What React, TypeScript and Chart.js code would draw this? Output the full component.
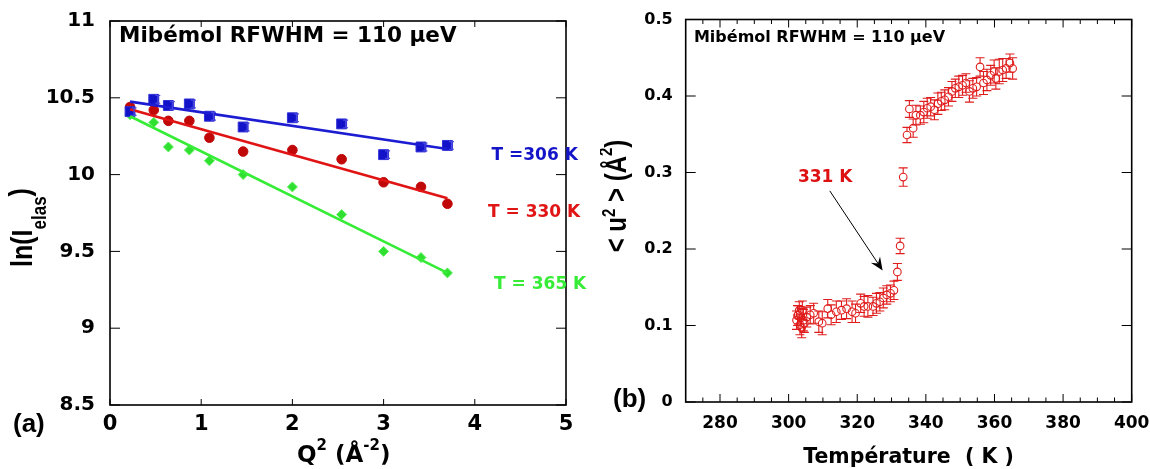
import React, { useEffect, useRef } from 'react';
import { Chart, registerables } from 'chart.js';

Chart.register(...registerables);

// ---------- Panel (a) data ----------
const Q2 = [0.22, 0.48, 0.64, 0.87, 1.09, 1.46, 2.0, 2.54, 3.0, 3.41, 3.7];
const LN_I_306 = [10.41, 10.49, 10.45, 10.46, 10.38, 10.31, 10.37, 10.33, 10.13, 10.18, 10.19];
const ERR_306 = [0.025, 0.025, 0.025, 0.025, 0.025, 0.025, 0.025, 0.025, 0.025, 0.025, 0.025];
const LN_I_330 = [10.44, 10.42, 10.35, 10.35, 10.24, 10.15, 10.16, 10.1, 9.95, 9.92, 9.81];
const LN_I_365 = [10.39, 10.34, 10.18, 10.16, 10.09, 10.0, 9.92, 9.74, 9.5, 9.46, 9.36];
const FIT_Q2 = [0.22, 3.7];
const FIT_306 = [10.475, 10.167];
const FIT_330 = [10.425, 9.846];
const FIT_365 = [10.38, 9.36];
const X_TICKS_A = [0, 1, 2, 3, 4, 5];
const Y_TICKS_A = [8.5, 9, 9.5, 10, 10.5, 11];

// ---------- Panel (b) data ----------
const TEMP_K = [
  302.3, 302.6, 302.8, 303.1, 303.3, 303.6, 303.8, 304.0, 304.3, 304.6,
  305.3, 306.3, 307.3, 308.8, 309.8,
  311.4, 312.4, 313.9, 315.4, 316.9, 318.5, 319.5,
  321.0, 322.0, 323.1, 324.6, 325.6, 326.6, 327.6, 328.6, 329.7, 330.7,
  331.7, 332.5, 333.4, 334.5, 335.2, 336.3,
  337.1, 338.4, 339.4, 340.4, 341.4, 342.5, 343.5, 344.5, 345.5, 346.6,
  347.6, 348.6, 349.6, 350.7, 351.7, 352.7, 353.7, 354.8, 355.8, 356.8,
  357.8, 358.9, 359.9, 360.4, 361.4, 362.4, 363.4, 364.5, 365.3,
];
const U2 = [
  0.107, 0.113, 0.114, 0.12, 0.101, 0.11, 0.097, 0.12, 0.107, 0.103,
  0.111, 0.114, 0.116, 0.105, 0.103,
  0.122, 0.114, 0.118, 0.12, 0.122, 0.118, 0.116,
  0.129, 0.125, 0.125, 0.125, 0.129, 0.131, 0.136, 0.14, 0.142, 0.146,
  0.17, 0.204, 0.294, 0.349, 0.383, 0.358,
  0.375, 0.375, 0.379, 0.384, 0.386, 0.382, 0.39, 0.393, 0.395, 0.399,
  0.406, 0.41, 0.412, 0.414, 0.417, 0.406, 0.41, 0.412, 0.438, 0.417,
  0.421, 0.427, 0.432, 0.423, 0.432, 0.434, 0.436, 0.443, 0.436,
];
const U2_ERR = [
  0.012, 0.013, 0.012, 0.011, 0.013, 0.012, 0.013, 0.012, 0.014, 0.012,
  0.013, 0.012, 0.013, 0.014, 0.015,
  0.012, 0.013, 0.014, 0.012, 0.013, 0.014, 0.012,
  0.012, 0.013, 0.014, 0.012, 0.013, 0.012, 0.013, 0.012, 0.011, 0.012,
  0.011, 0.01, 0.012, 0.01, 0.011, 0.012,
  0.013, 0.012, 0.014, 0.013, 0.012, 0.013, 0.014, 0.012, 0.013, 0.012,
  0.013, 0.012, 0.014, 0.013, 0.012, 0.014, 0.013, 0.012, 0.012, 0.015,
  0.014, 0.013, 0.015, 0.014, 0.016, 0.015, 0.013, 0.012, 0.014,
];
const X_TICKS_B = [280, 300, 320, 340, 360, 380, 400];
const X_MINOR_B = [275, 285, 290, 295, 305, 310, 315, 325, 330, 335, 345, 350, 355, 365, 370, 375, 385, 390, 395];
const Y_TICKS_B = [0, 0.1, 0.2, 0.3, 0.4, 0.5];

// annotation anchors (data coordinates)
const ARROW_FROM = [312.0, 0.276];
const ARROW_TO = [327.4, 0.172];
const LABEL_331 = [302.7, 0.288];

const DV = "'DejaVu Sans', sans-serif";
const LS = "'Liberation Sans', Arial, sans-serif";

type Seg = { t: string; font: string; dy?: number; color?: string };
type TextItem = {
  segs: Seg[];
  x: number;
  y: number;
  data?: boolean;
  rotate?: boolean;
  stretch?: number;
  align?: 'left' | 'center';
  color?: string;
};

function drawRich(ctx: CanvasRenderingContext2D, it: TextItem, x: number, y: number) {
  ctx.save();
  const widths = it.segs.map((s) => {
    ctx.font = s.font;
    return ctx.measureText(s.t).width;
  });
  const total = widths.reduce((a, b) => a + b, 0);
  ctx.translate(x, y);
  ctx.scale(it.stretch || 1, 1);
  if (it.rotate) ctx.rotate(-Math.PI / 2);
  let cx = it.align === 'center' ? -total / 2 : 0;
  ctx.textBaseline = 'alphabetic';
  ctx.textAlign = 'left';
  it.segs.forEach((s, i) => {
    ctx.font = s.font;
    ctx.fillStyle = s.color || it.color || '#000';
    ctx.fillText(s.t, cx, s.dy || 0);
    cx += widths[i];
  });
  ctx.restore();
}

const textPlugin = {
  id: 'texts',
  afterDraw(chart: any, _a: any, opts: any) {
    const ctx = chart.ctx as CanvasRenderingContext2D;
    const xs = chart.scales.x;
    const ys = chart.scales.y;
    (opts.items || []).forEach((it: TextItem) => {
      const px = it.data ? xs.getPixelForValue(it.x) : it.x;
      const py = it.data ? ys.getPixelForValue(it.y) : it.y;
      drawRich(ctx, it, px, py);
    });
  },
};

const framePlugin = {
  id: 'frame',
  afterDraw(chart: any, _a: any, opts: any) {
    const ctx = chart.ctx as CanvasRenderingContext2D;
    const a = chart.chartArea;
    const xs = chart.scales.x;
    const ys = chart.scales.y;
    ctx.save();
    ctx.strokeStyle = '#000';
    ctx.lineWidth = 1;
    const line = (x1: number, y1: number, x2: number, y2: number) => {
      ctx.beginPath();
      ctx.moveTo(x1, y1);
      ctx.lineTo(x2, y2);
      ctx.stroke();
    };
    (opts.xMajor || []).forEach((v: number) => {
      const p = xs.getPixelForValue(v);
      line(p, a.bottom, p, a.bottom - opts.xMajorLen);
      line(p, a.top, p, a.top + opts.xMajorLen);
    });
    (opts.xMinor || []).forEach((v: number) => {
      const p = xs.getPixelForValue(v);
      line(p, a.bottom, p, a.bottom - opts.xMinorLen);
      line(p, a.top, p, a.top + opts.xMinorLen);
    });
    (opts.yMajor || []).forEach((v: number) => {
      const p = ys.getPixelForValue(v);
      line(a.left, p, a.left + opts.yMajorLen, p);
      line(a.right, p, a.right - opts.yMajorLen, p);
    });
    ctx.lineWidth = 1.6;
    ctx.strokeRect(a.left, a.top, a.right - a.left, a.bottom - a.top);
    ctx.restore();
  },
};

const errorBarPlugin = {
  id: 'errorBars',
  afterDatasetsDraw(chart: any) {
    const ctx = chart.ctx as CanvasRenderingContext2D;
    const ys = chart.scales.y;
    chart.data.datasets.forEach((ds: any, di: number) => {
      if (!ds.errors) return;
      const meta = chart.getDatasetMeta(di);
      ctx.save();
      ctx.strokeStyle = ds.errColor || ds.borderColor;
      ctx.lineWidth = ds.errWidth || 1;
      const cap = ds.errCap || 4;
      const gap = ds.errGap || 0;
      meta.data.forEach((pt: any, i: number) => {
        const v = ds.data[i].y;
        const e = ds.errors[i];
        const x = pt.x + (ds.errOffset || 0);
        const yc = pt.y;
        const yt = ys.getPixelForValue(v + e);
        const yb = ys.getPixelForValue(v - e);
        ctx.beginPath();
        if (gap > 0) {
          if (yc - gap > yt) {
            ctx.moveTo(x, yt);
            ctx.lineTo(x, yc - gap);
          }
          if (yc + gap < yb) {
            ctx.moveTo(x, yc + gap);
            ctx.lineTo(x, yb);
          }
        } else {
          ctx.moveTo(x, yt);
          ctx.lineTo(x, yb);
        }
        ctx.moveTo(x - cap, yt);
        ctx.lineTo(x + cap, yt);
        ctx.moveTo(x - cap, yb);
        ctx.lineTo(x + cap, yb);
        ctx.stroke();
      });
      ctx.restore();
    });
  },
};

const arrowPlugin = {
  id: 'arrow',
  afterDraw(chart: any, _a: any, opts: any) {
    if (!opts.from) return;
    const ctx = chart.ctx as CanvasRenderingContext2D;
    const xs = chart.scales.x;
    const ys = chart.scales.y;
    const x1 = xs.getPixelForValue(opts.from[0]);
    const y1 = ys.getPixelForValue(opts.from[1]);
    const x2 = xs.getPixelForValue(opts.to[0]);
    const y2 = ys.getPixelForValue(opts.to[1]);
    const ang = Math.atan2(y2 - y1, x2 - x1);
    const L = 13;
    const W = 5.5;
    ctx.save();
    ctx.strokeStyle = '#000';
    ctx.fillStyle = '#000';
    ctx.lineWidth = 1;
    ctx.beginPath();
    ctx.moveTo(x1, y1);
    ctx.lineTo(x2 - Math.cos(ang) * 6, y2 - Math.sin(ang) * 6);
    ctx.stroke();
    const bx = x2 - Math.cos(ang) * L;
    const by = y2 - Math.sin(ang) * L;
    const nx = x2 - Math.cos(ang) * (L * 0.65);
    const ny = y2 - Math.sin(ang) * (L * 0.65);
    ctx.beginPath();
    ctx.moveTo(x2, y2);
    ctx.lineTo(bx - Math.sin(ang) * W, by + Math.cos(ang) * W);
    ctx.lineTo(nx, ny);
    ctx.lineTo(bx + Math.sin(ang) * W, by - Math.cos(ang) * W);
    ctx.closePath();
    ctx.fill();
    ctx.restore();
  },
};

const fmt = (v: number) => String(+Number(v).toFixed(2));

function makeScale(
  min: number,
  max: number,
  ticks: number[],
  size: number,
  pad: number,
  fixed: number,
  horizontal: boolean
) {
  return {
    type: 'linear',
    min,
    max,
    grid: { display: false, drawTicks: false, tickLength: 0 },
    border: { display: false },
    ticks: {
      autoSkip: false,
      maxRotation: 0,
      minRotation: 0,
      color: '#000',
      padding: pad,
      font: { family: DV, size, weight: 'bold' },
      callback: (v: any) => fmt(v),
    },
    afterBuildTicks: (s: any) => {
      s.ticks = ticks.map((v) => ({ value: v }));
    },
    afterFit: (s: any) => {
      if (horizontal) {
        s.height = fixed;
        s.paddingLeft = 0;
        s.paddingRight = 0;
      } else {
        s.width = fixed;
        s.paddingTop = 0;
        s.paddingBottom = 0;
      }
    },
  };
}

function configA(): any {
  const pts = (ys: number[]) => Q2.map((x, i) => ({ x, y: ys[i] }));
  const fit = (ys: number[]) => FIT_Q2.map((x, i) => ({ x, y: ys[i] }));
  return {
    type: 'scatter',
    data: {
      datasets: [
        { data: fit(FIT_306), showLine: true, borderColor: '#1c1cd2', borderWidth: 2.6, pointRadius: 0 },
        { data: fit(FIT_330), showLine: true, borderColor: '#e01414', borderWidth: 2.6, pointRadius: 0 },
        { data: fit(FIT_365), showLine: true, borderColor: '#36ec36', borderWidth: 2.6, pointRadius: 0 },
        {
          data: pts(LN_I_306),
          pointStyle: 'rect',
          pointRadius: 7,
          backgroundColor: '#1212c8',
          borderColor: '#3030d8',
          borderWidth: 1,
          errors: ERR_306,
          errOffset: 4,
          errCap: 2.5,
          errColor: '#4848e0',
          errWidth: 1.2,
        },
        { data: pts(LN_I_330), pointStyle: 'circle', pointRadius: 4.8, backgroundColor: '#c00808', borderColor: '#c00808', borderWidth: 1 },
        { data: pts(LN_I_365), pointStyle: 'rectRot', pointRadius: 5, backgroundColor: '#30e030', borderColor: '#60f060', borderWidth: 1 },
      ],
    },
    options: {
      animation: false,
      responsive: true,
      maintainAspectRatio: false,
      layout: { padding: { top: 21, right: 34, left: 0, bottom: 0 } },
      plugins: {
        legend: { display: false },
        tooltip: { enabled: false },
        frame: { xMajor: X_TICKS_A, xMajorLen: 6, xMinor: [], xMinorLen: 0, yMajor: Y_TICKS_A, yMajorLen: 10 },
        texts: {
          items: [
            { segs: [{ t: 'Mibémol RFWHM = 110 µeV', font: `bold 21.5px ${DV}` }], x: 0.099, y: 10.865, data: true },
            { segs: [{ t: 'T =306 K', font: `bold 17px ${DV}` }], x: 4.183, y: 10.095, data: true, color: '#1414c8' },
            { segs: [{ t: 'T = 330 K', font: `bold 17px ${DV}` }], x: 4.145, y: 9.724, data: true, color: '#e01515' },
            { segs: [{ t: 'T = 365 K', font: `bold 17px ${DV}` }], x: 4.211, y: 9.255, data: true, color: '#36ec36' },
            { segs: [{ t: '(a)', font: `bold 26px ${LS}` }], x: 13, y: 432 },
            {
              segs: [
                { t: 'Q', font: `bold 23px ${DV}` },
                { t: '2', font: `bold 15px ${DV}`, dy: -12 },
                { t: ' (Å', font: `bold 23px ${DV}` },
                { t: '-2', font: `bold 15px ${DV}`, dy: -12 },
                { t: ')', font: `bold 23px ${DV}` },
              ],
              x: 297,
              y: 461.5,
            },
            {
              segs: [
                { t: 'ln(I', font: `bold 25px ${LS}` },
                { t: 'elas', font: `bold 17px ${LS}`, dy: 12 },
                { t: ')', font: `bold 25px ${LS}`, dy: -2 },
              ],
              x: 32,
              y: 227.5,
              rotate: true,
              stretch: 1.2,
              align: 'center',
            },
          ],
        },
      },
      scales: {
        x: makeScale(0, 5, X_TICKS_A, 21, 7, 64, true),
        y: makeScale(8.5, 11, Y_TICKS_A, 20, 15, 110, false),
      },
    },
    plugins: [errorBarPlugin, framePlugin, textPlugin],
  };
}

function configB(): any {
  return {
    type: 'scatter',
    data: {
      datasets: [
        {
          data: TEMP_K.map((x, i) => ({ x, y: U2[i] })),
          pointStyle: 'circle',
          pointRadius: 3.8,
          backgroundColor: 'rgba(0,0,0,0)',
          borderColor: '#e01c1c',
          borderWidth: 1.1,
          errors: U2_ERR,
          errCap: 4.5,
          errGap: 3.8,
          errColor: '#e01c1c',
          errWidth: 1.1,
        },
      ],
    },
    options: {
      animation: false,
      responsive: true,
      maintainAspectRatio: false,
      layout: { padding: { top: 19.5, right: 18.3, left: 0, bottom: 0 } },
      plugins: {
        legend: { display: false },
        tooltip: { enabled: false },
        frame: { xMajor: X_TICKS_B, xMajorLen: 8, xMinor: X_MINOR_B, xMinorLen: 4.5, yMajor: Y_TICKS_B, yMajorLen: 10 },
        arrow: { from: ARROW_FROM, to: ARROW_TO },
        texts: {
          items: [
            { segs: [{ t: 'Mibémol RFWHM = 110 µeV', font: `bold 16px ${DV}` }], x: 272.4, y: 0.471, data: true },
            { segs: [{ t: '331 K', font: `bold 17px ${DV}` }], x: LABEL_331[0], y: LABEL_331[1], data: true, color: '#dd1111' },
            { segs: [{ t: '(b)', font: `bold 26px ${LS}` }], x: 13, y: 407 },
            {
              segs: [{ t: 'Température  ( K )', font: `bold 20.5px ${DV}` }],
              x: 308.5,
              y: 463,
              align: 'center',
            },
            {
              segs: [
                { t: '< u', font: `bold 24px ${LS}` },
                { t: '2', font: `bold 15px ${LS}`, dy: -9 },
                { t: ' > (Å', font: `bold 24px ${LS}` },
                { t: '2', font: `bold 15px ${LS}`, dy: -12 },
                { t: ')', font: `bold 24px ${LS}` },
              ],
              x: 26,
              y: 196,
              rotate: true,
              stretch: 1.2,
              align: 'center',
            },
          ],
        },
      },
      scales: {
        x: makeScale(270, 400, X_TICKS_B, 17, 11, 67, true),
        y: makeScale(0, 0.5, Y_TICKS_B, 16, 13, 85.7, false),
      },
    },
    plugins: [errorBarPlugin, framePlugin, arrowPlugin, textPlugin],
  };
}

function Panel({ left, width, make }: { left: number; width: number; make: () => any }) {
  const ref = useRef<HTMLCanvasElement | null>(null);
  useEffect(() => {
    if (!ref.current) return;
    const chart = new Chart(ref.current, make());
    return () => chart.destroy();
  }, [make]);
  return (
    <div style={{ position: 'absolute', left, top: 0, width, height: 469 }}>
      <canvas ref={ref} />
    </div>
  );
}

export default function App() {
  return (
    <div style={{ position: 'absolute', left: 0, top: 0, width: 1150, height: 469, background: '#fff', overflow: 'hidden' }}>
      <Panel left={0} width={600} make={configA} />
      <Panel left={600} width={550} make={configB} />
    </div>
  );
}
